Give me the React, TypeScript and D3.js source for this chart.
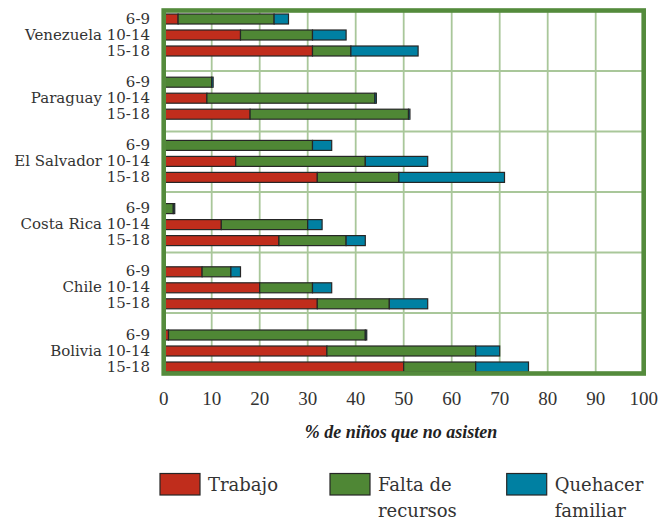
import React from "react";
import * as d3 from "d3";

const countries = ["Venezuela", "Paraguay", "El Salvador", "Costa Rica", "Chile", "Bolivia"];
const ages = ["6-9", "10-14", "15-18"];
const causes = ["Trabajo", "Falta de recursos", "Quehacer familiar"];
const legendLines = [["Trabajo"], ["Falta de", "recursos"], ["Quehacer", "familiar"]];

// values per country, per age group: [Trabajo, Falta de recursos, Quehacer familiar]
const venezuela = [[3, 20, 3], [16, 15, 7], [31, 8, 14]];
const paraguay = [[0, 10, 0.3], [9, 35, 0.3], [18, 33, 0.3]];
const elSalvador = [[0, 31, 4], [15, 27, 13], [32, 17, 22]];
const costaRica = [[0, 2, 0.3], [12, 18, 3], [24, 14, 4]];
const chile = [[8, 6, 2], [20, 11, 4], [32, 15, 8]];
const bolivia = [[1, 41, 0.3], [34, 31, 5], [50, 15, 11]];
const values = [venezuela, paraguay, elSalvador, costaRica, chile, bolivia];

const xTicks = [0, 10, 20, 30, 40, 50, 60, 70, 80, 90, 100];
const colors = ["#c02d1c", "#4f8735", "#0080a2"];

export default function App() {
  const W = 669, H = 521;
  const x = d3.scaleLinear().domain([0, 100]).range([163.7, 643.7]);
  const frameTop = 10.5, frameBottom = 373.5;
  const gridY = d3.scaleLinear().domain([0, 6]).range([frameTop, frameBottom]);
  const gy = d3.scaleBand().domain(countries).range([14, 14 + 6 * 63.2]).paddingInner(0).paddingOuter(0);
  const ay = d3.scaleBand().domain(ages).range([0, 42]).paddingInner(0.375).paddingOuter(0);
  const color = d3.scaleOrdinal<string, string>().domain(causes).range(colors);
  const stack = d3.stack<number[]>().keys(causes.map((_, i) => String(i))).value((d, k) => d[+k]);

  const serif = "'DejaVu Serif', serif";
  const labelColor = "#333";

  return (
    <svg width={W} height={H} style={{ position: "absolute", left: 0, top: 0, background: "#fff" }}>
      {/* grid */}
      {xTicks.slice(1, -1).map((t) => (
        <line key={"vx" + t} x1={x(t)} x2={x(t)} y1={frameTop} y2={frameBottom} stroke="#a9c79a" strokeWidth={1.8} />
      ))}
      {d3.range(1, 6).map((i) => (
        <line key={"hy" + i} x1={x(0)} x2={x(100)} y1={gridY(i)} y2={gridY(i)} stroke="#a9c79a" strokeWidth={1.8} />
      ))}
      {/* bars */}
      {countries.map((c, ci) => {
        const series = stack(values[ci]);
        return (
          <g key={c} transform={`translate(0,${gy(c)})`}>
            {series.map((s, si) =>
              s.map((d, ai) => (
                <rect
                  key={si + "-" + ai}
                  x={x(d[0])}
                  y={ay(ages[ai])}
                  width={x(d[1]) - x(d[0])}
                  height={ay.bandwidth()}
                  fill={color(causes[si])}
                  stroke="#262626"
                  strokeWidth={1.2}
                />
              ))
            )}
            {ages.map((a, ai) => (
              <text
                key={a}
                x={150}
                y={(ay(a) as number) + 9.5}
                textAnchor="end"
                fontFamily={serif}
                fontSize={15}
                fill={labelColor}
              >
                {ai === 1 ? `${c} ${a}` : a}
              </text>
            ))}
          </g>
        );
      })}
      {/* frame */}
      <rect x={x(0)} y={frameTop} width={x(100) - x(0)} height={frameBottom - frameTop} fill="none" stroke="#548b3c" strokeWidth={4.6} />
      {/* x ticks */}
      {xTicks.map((t) => (
        <text key={"t" + t} x={x(t)} y={405} textAnchor="middle" fontFamily="'Liberation Serif', serif" fontSize={19} fill={labelColor}>
          {t}
        </text>
      ))}
      <text x={401} y={438} textAnchor="middle" fontFamily="'Liberation Serif', serif" fontStyle="italic" fontWeight="bold" fontSize={18} fill="#222">
        % de niños que no asisten
      </text>
      {/* legend */}
      {causes.map((c, i) => {
        const lx = [160, 330, 506.7][i];
        return (
          <g key={c}>
            <rect x={lx} y={473.5} width={40} height={21.5} fill={color(c)} stroke="#262626" strokeWidth={1.2} />
            {legendLines[i].map((ln, li) => (
              <text key={li} x={lx + 48} y={491 + li * 25.5} fontFamily={serif} fontSize={18} fill={labelColor}>
                {ln}
              </text>
            ))}
          </g>
        );
      })}
    </svg>
  );
}
